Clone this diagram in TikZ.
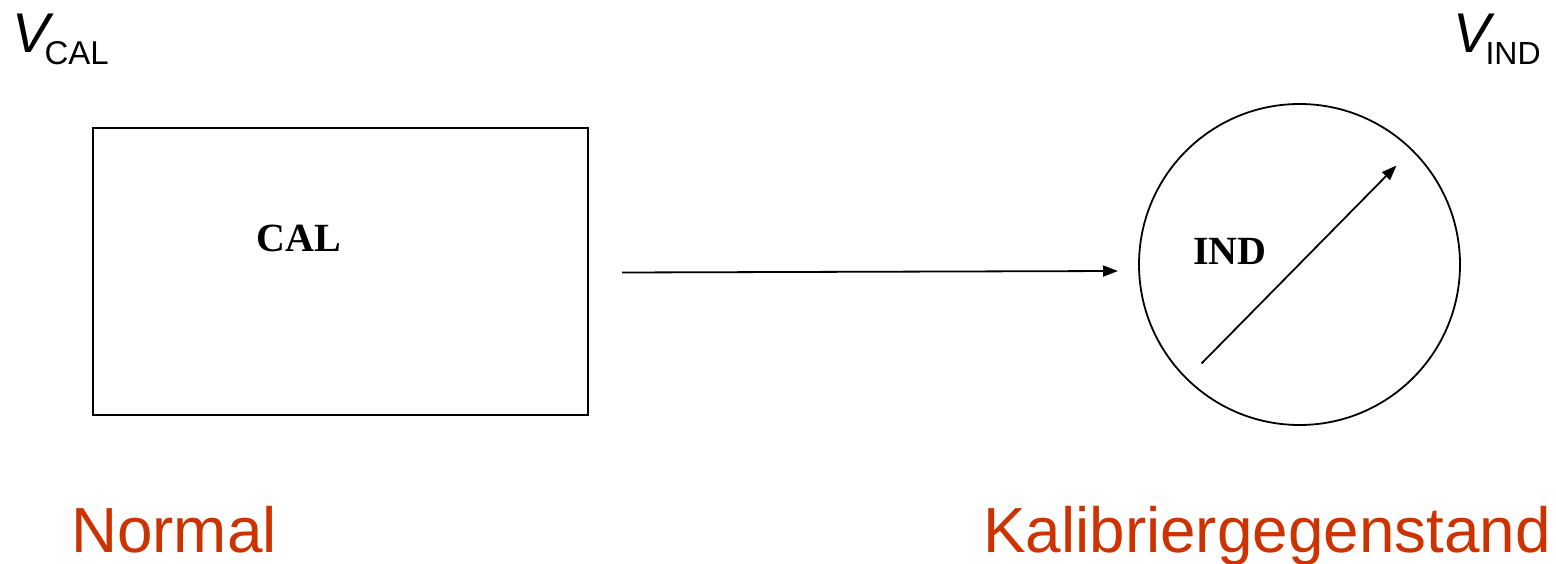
\documentclass[tikz,border=0pt]{standalone}
\usepackage{fontspec}
\setmainfont{Liberation Serif}
\newfontfamily\arialfont{Liberation Sans}
\usetikzlibrary{arrows.meta,calc}
\definecolor{labred}{HTML}{CC3300}
\tikzset{
  shape line/.style={draw, line width=1.8pt, inner sep=0pt},
  conn/.style={line width=1.8pt, -{Triangle[length=15pt,width=11pt]}},
  sym/.style={inner sep=0pt, anchor=base west, font=\arialfont},
  caption/.style={inner sep=0pt, anchor=base west, text=labred, font=\arialfont\fontsize{63.8}{76}\selectfont},
  inlabel/.style={inner sep=0pt, font=\bfseries\fontsize{40}{46}\selectfont}
}
\begin{document}
\begin{tikzpicture}[x=1pt,y=-1pt]
\useasboundingbox (0,0) rectangle (1556,564);
\node[shape line, rectangle, minimum width=495pt, minimum height=287pt] (box) at (340.5,271.5) {};
\node[shape line, circle, minimum size=321pt] (circ) at (1299.5,264.5) {};
\node[inlabel] (cal) at (299,238) {CAL};
\node[inlabel] (ind) at (1230,251) {IND};
\coordinate (a1) at (622,272.5);
\coordinate (a2) at (1118,271);
\draw[conn] (a1) -- (a2);
\coordinate (p1) at ($(circ.center)+(-98,99)$);
\coordinate (p2) at ($(circ.center)+(97,-99)$);
\draw[conn] (p1) -- (p2);
\node[sym] (vcal) at (12,53) {{\fontsize{56}{60}\selectfont\itshape V}\hspace{-5pt}\raisebox{-12pt}{\fontsize{33}{36}\selectfont CAL}};
\node[sym] (vind) at (1453,53) {{\fontsize{56}{60}\selectfont\itshape V}\hspace{-5pt}\raisebox{-12pt}{\fontsize{32}{36}\selectfont IND}};
\node[caption] (normal) at (71,552) {Normal};
\node[caption] (kal) at (983,552) {Kalibriergegenstand};
\end{tikzpicture}
\end{document}
